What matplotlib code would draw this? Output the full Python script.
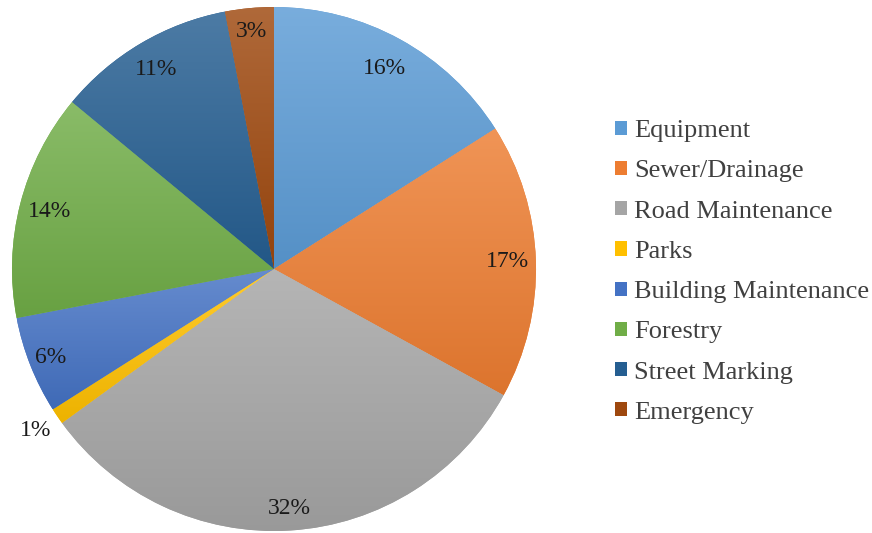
import numpy as np
import matplotlib
matplotlib.use("Agg")
import matplotlib.pyplot as plt
from matplotlib.colors import to_rgb
from matplotlib.patches import Patch

categories = ["Equipment", "Sewer/Drainage", "Road Maintenance", "Parks",
              "Building Maintenance", "Forestry", "Street Marking", "Emergency"]
shares = [16, 17, 32, 1, 6, 14, 11, 3]
colors = ["#5B9BD5", "#ED7D31", "#A5A5A5", "#FFC000",
          "#4472C4", "#70AD47", "#255E91", "#9E480E"]
# radial distance of each percentage label, as a fraction of the radius
label_dist = [0.875, 0.89, 0.915, 1.10, 0.918, 0.884, 0.883, 0.91]

plt.rcParams["font.family"] = ["Liberation Serif", "DejaVu Serif"]

fig = plt.figure(figsize=(8.72, 5.33), dpi=100)
W, H = 872, 533
cx, cy, r = 274, 269, 262
ax = fig.add_axes([(cx - r) / W, (H - cy - r) / H, 2 * r / W, 2 * r / H])

wedges, texts, autotexts = ax.pie(
    shares, colors=colors, startangle=90, counterclock=False, radius=1,
    autopct="%.0f%%", pctdistance=1.0,
    wedgeprops=dict(linewidth=0),
    textprops=dict(fontsize=17, color="#1a1a1a"))

# push each label out along its slice's mid-angle
for t, d in zip(autotexts, label_dist):
    x, y = t.get_position()
    t.set_position((x * d, y * d))
    t.set_zorder(3)

# vertical gradient fill inside each slice, lighter at the top
def shade(c, f):
    c = np.array(to_rgb(c))
    return c + (1 - c) * f if f > 0 else c * (1 + f)

for w, c in zip(wedges, colors):
    ext = w.get_path().get_extents()
    top, bot = shade(c, 0.18), shade(c, -0.07)
    t = np.linspace(0, 1, 128)[:, None]
    grad = (top[None, :] * (1 - t) + bot[None, :] * t)[:, None, :]
    im = ax.imshow(grad, extent=[ext.x0, ext.x1, ext.y0, ext.y1],
                   aspect="auto", origin="upper", zorder=1.5,
                   interpolation="bilinear")
    im.set_clip_path(w)

ax.set_xlim(-1, 1)
ax.set_ylim(-1, 1)
ax.set_aspect("equal")
ax.axis("off")

handles = [Patch(facecolor=c, edgecolor="none") for c in colors]
fig.legend(handles, categories, loc="center left",
           bbox_to_anchor=(591 / W, 1 - 272 / H), frameon=False,
           fontsize=19, handlelength=0.45, handleheight=0.45,
           handletextpad=0.27, labelspacing=0.69, labelcolor="#404040")

fig.savefig("out.png", dpi=100)
